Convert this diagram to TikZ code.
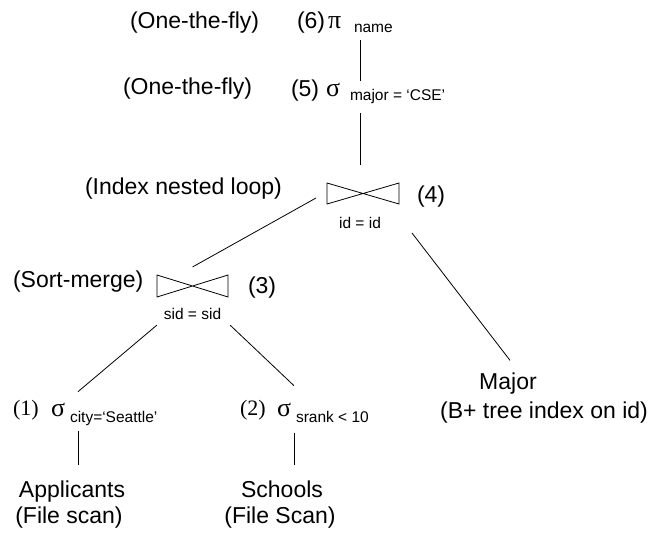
\documentclass[tikz,border=0pt]{standalone}
\usepackage{fontspec}
\setmainfont{Liberation Sans}
\newfontfamily\timesfont{Liberation Serif}
\usetikzlibrary{calc}
\begin{document}
\begin{tikzpicture}[x=1pt,y=-1pt,
  lbl/.style={inner sep=0pt, outer sep=0pt, anchor=base west, font=\fontsize{23}{27}\selectfont},
  subtext/.style={inner sep=0pt, outer sep=0pt, anchor=base west, font=\fontsize{15.5}{18}\selectfont},
  greek/.style={inner sep=0pt, outer sep=0pt, anchor=base west, font=\timesfont\fontsize{26}{30}\selectfont},
  serifnum/.style={inner sep=0pt, outer sep=0pt, anchor=base west, font=\timesfont\fontsize{22}{26}\selectfont},
  joinbox/.style={rectangle, inner sep=0pt, outer sep=0pt, minimum width=72pt, minimum height=21pt},
  wire/.style={draw=black, line width=0.8pt}]
\fill[white] (0,0) rectangle (662,535);
\useasboundingbox (0,0) rectangle (662,535);

% columns of the vertical connectors
\coordinate (spine) at (360,0);
\coordinate (colA) at (78,0);
\coordinate (colB) at (294,0);

% (6) projection
\node[lbl] (fly6) at (130,29) {(One-the-fly)};
\node[lbl] (n6) at (297,29) {(6)};
\node[greek] (p6) at (328,29) {π};
\node[subtext] (sub6) at (354,33) {name};

% (5) selection on major
\node[lbl] (fly5) at (123,95) {(One-the-fly)};
\node[lbl] (n5) at (291,96) {(5)};
\node[greek] (s5) at (326,96) {σ};
\node[subtext] (sub5) at (350,101) {major = ‘CSE’};

% (4) index nested loop join
\node[lbl] (inl) at (85,194) {(Index nested loop)};
\node[joinbox] (j4) at (363,193.5) {};
\node[lbl] (n4) at (417,202) {(4)};
\node[subtext, anchor=base] (l4) at (360,228) {id = id};

% (3) sort-merge join
\node[lbl] (sm) at (13,287) {(Sort-merge)};
\node[joinbox, minimum width=71pt, minimum height=22pt] (j3) at (192.5,286) {};
\node[lbl] (n3) at (248,293) {(3)};
\node[subtext, anchor=base] (l3) at (192.5,319) {sid = sid};

% (1) and (2) selections
\node[serifnum] (n1) at (13,415) {(1)};
\node[greek] (s1) at (51,416) {σ};
\node[subtext] (sub1) at (70,422) {city=‘Seattle’};
\node[serifnum] (n2) at (240,415) {(2)};
\node[greek] (s2) at (277,416) {σ};
\node[subtext] (sub2) at (296,422) {srank < 10};

% base relations
\node[lbl, anchor=base] (app) at (72,497) {Applicants};
\node[lbl, anchor=base] (appscan) at (69,523) {(File scan)};
\node[lbl, anchor=base] (sch) at (282,497) {Schools};
\node[lbl, anchor=base] (schscan) at (280,523) {(File Scan)};
\node[lbl, anchor=base] (maj) at (508,389) {Major};
\node[lbl, anchor=base] (majidx) at (544,418) {(B+ tree index on id)};

% join symbols
\foreach \j in {j4,j3}
  \draw[wire] (\j.north west) -- (\j.south west) -- (\j.north east) -- (\j.south east) -- cycle;

% tree edges
\draw[wire] ($(p6.south -| spine)+(0,11)$) -- ($(s5.north -| spine)+(0,-2)$);
\draw[wire] ($(s5.south -| spine)+(0,17)$) -- ($(j4.north -| spine)+(0,-18)$);
\draw[wire] ($(j4.west)+(-11,4.5)$) -- ($(j3.north)+(0,-8)$);
\draw[wire] ($(j4.south east)+(13,29)$) -- ($(maj.north)+(2,-12)$);
\draw[wire] ($(l3.south west)+(-7,6)$) -- ($(s1.north -| colA)+(0,-11)$);
\draw[wire] ($(l3.south east)+(9,6)$) -- ($(s2.north -| colB)+(0,-17)$);
\draw[wire] ($(s1.south -| colA)+(0,15)$) -- ($(app.north -| colA)+(0,-15)$);
\draw[wire] ($(s2.south -| colB)+(0,17)$) -- ($(sch.north -| colB)+(0,-15)$);
\end{tikzpicture}
\end{document}
